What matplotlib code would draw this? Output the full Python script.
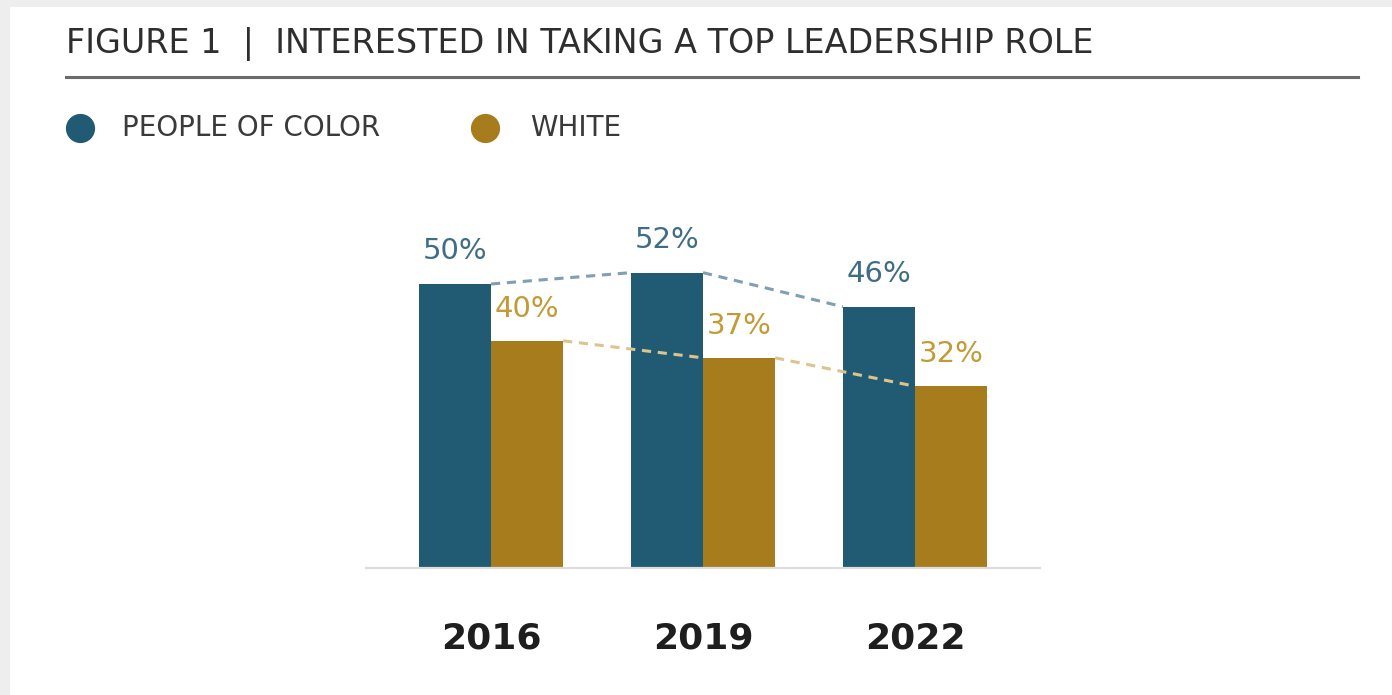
import matplotlib
matplotlib.use("Agg")
import matplotlib.pyplot as plt
from matplotlib.lines import Line2D
from matplotlib.patches import Rectangle
import numpy as np

years = ["2016", "2019", "2022"]
people_of_color = [50, 52, 46]
white = [40, 37, 32]
series_names = ["PEOPLE OF COLOR", "WHITE"]

BLUE = "#215a73"
GOLD = "#a67c1c"
BLUE_TXT = "#3f6d86"
GOLD_TXT = "#c39a35"
W = 0.34

plt.rcParams['font.family'] = ['DejaVu Sans']

fig = plt.figure(figsize=(13.92, 6.95), dpi=100)
fig.patch.set_facecolor("#eeeeee")
# white card
fig.add_artist(Rectangle((10/1392, 0), 1 - 10/1392, 1 - 7/695, transform=fig.transFigure,
                         facecolor="white", edgecolor="none", zorder=0))

# title and rule
fig.text(66/1392, 1 - 44/695, "FIGURE 1  |  INTERESTED IN TAKING A TOP LEADERSHIP ROLE",
         fontsize=24, color="#2e2e2e", va="center", ha="left")
fig.add_artist(Line2D([66/1392, 1358/1392], [1 - 77/695, 1 - 77/695], transform=fig.transFigure,
                      color="#6b6b6b", lw=2.2))

# legend
for cx, tx, col, name in [(80, 122, BLUE, series_names[0]), (485, 530, GOLD, series_names[1])]:
    fig.add_artist(Line2D([cx/1392], [1 - 128/695], transform=fig.transFigure, marker="o",
                          markersize=20, color=col, linestyle="none"))
    fig.text(tx/1392, 1 - 128/695, name, fontsize=20, color="#3a3a3a", va="center", ha="left")

ax = fig.add_axes([366/1392, (695-568)/695, 674/1392, 368/695])
ax.set_facecolor("none")
x = np.arange(len(years))
ax.bar(x - W/2, people_of_color, W, color=BLUE, zorder=2)
ax.bar(x + W/2, white, W, color=GOLD, zorder=2)

# dashed connectors: from right edge of one bar top to left edge of the next year's bar top
for vals, off, col in [(people_of_color, -W/2, "#7f9fb2"), (white, W/2, "#dcc48e")]:
    for i in range(len(years) - 1):
        ax.plot([i + off + W/2, i + 1 + off - W/2], [vals[i], vals[i + 1]],
                ls=(0, (3, 2.2)), color=col, lw=2.2, zorder=3)

for i in range(len(years)):
    ax.text(i - W/2, people_of_color[i] + 5.8, f"{people_of_color[i]}%", ha="center", va="center",
            fontsize=21, color=BLUE_TXT)
    ax.text(i + W/2, white[i] + 5.6, f"{white[i]}%", ha="center", va="center",
            fontsize=21, color=GOLD_TXT)
    ax.text(i, -12.4, years[i], ha="center", va="center", fontsize=26, color="#1e1e1e",
            fontweight="bold")

ax.set_xlim(-0.59, 2.59)
ax.set_ylim(0, 368/5.68)
ax.set_xticks([])
ax.set_yticks([])
for s in ["top", "left", "right"]:
    ax.spines[s].set_visible(False)
ax.spines["bottom"].set_color("#dddddd")
ax.spines["bottom"].set_linewidth(1.6)

fig.savefig("out.png", dpi=100, facecolor=fig.get_facecolor())
